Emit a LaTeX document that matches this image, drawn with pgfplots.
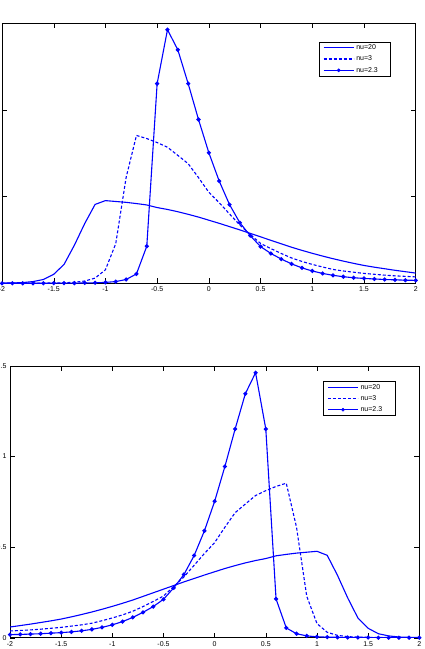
\documentclass[border=0pt]{standalone}
\usepackage{pgfplots}
\pgfplotsset{compat=1.18}
\usepackage{pgfplotstable}
\usepackage{fontspec}
\setmainfont{Liberation Sans}

% x, nu=20 (a), nu=3 (b), nu=2.3 (c)  -- lower panel; upper panel is its mirror image
\pgfplotstableread{
x    a      b      c
-2.0 0.059  0.037  0.017
-1.9 0.067  0.040  0.018
-1.8 0.075  0.043  0.020
-1.7 0.084  0.047  0.022
-1.6 0.093  0.052  0.025
-1.5 0.103  0.057  0.028
-1.4 0.115  0.064  0.032
-1.3 0.128  0.071  0.038
-1.2 0.142  0.080  0.046
-1.1 0.157  0.094  0.057
-1.0 0.173  0.109  0.071
-0.9 0.190  0.126  0.089
-0.8 0.208  0.146  0.112
-0.7 0.228  0.172  0.140
-0.6 0.248  0.200  0.172
-0.5 0.268  0.230  0.212
-0.4 0.288  0.282  0.275
-0.3 0.308  0.336  0.349
-0.2 0.327  0.400  0.454
-0.1 0.346  0.465  0.590
0.0  0.364  0.525  0.753
0.1  0.382  0.610  0.945
0.2  0.398  0.690  1.152
0.3  0.413  0.738  1.347
0.4  0.426  0.785  1.463
0.5  0.437  0.812  1.152
0.6  0.452  0.835  0.214
0.7  0.460  0.853  0.054
0.8  0.467  0.610  0.022
0.9  0.472  0.229  0.010
1.0  0.477  0.078  0.005
1.1  0.455  0.030  0.003
1.2  0.345  0.013  0.002
1.3  0.220  0.006  0.001
1.4  0.109  0.003  0.001
1.5  0.052  0.002  0.001
1.6  0.022  0.001  0.000
1.7  0.010  0.001  0.000
1.8  0.004  0.000  0.000
1.9  0.002  0.000  0.000
2.0  0.001  0.000  0.000
}\datatab

\pgfplotsset{
  mlstyle/.style={
    scale only axis,
    xmin=-2, xmax=2, ymin=0, ymax=1.5,
    xtick={-2,-1.5,-1,-0.5,0,0.5,1,1.5,2},
    ytick={0,0.5,1,1.5},
    tick align=inside,
    major tick length=5pt,
    tick style={black, line width=0.4pt},
    axis line style={black, line width=0.6pt},
    ticklabel style={font=\fontsize{7}{8}\selectfont},
    /pgf/number format/assume math mode=true,
    legend cell align=left,
    legend style={anchor=north east, draw=none,
      font=\fontsize{7}{8}\selectfont, inner xsep=3.7pt, inner ysep=0.5pt,
      row sep=0.5pt,
      append after command={\pgfextra{}},
      nodes={inner sep=2pt, text height=5.3pt, text depth=1.5pt}},
    every axis legend/.append style={draw=black, line width=0.6pt},
  },
  s20/.style={color=blue, draw=blue, line width=1.1pt, mark=none},
  s3/.style={color=blue, draw=blue, line width=1.1pt, mark=none, dash pattern=on 3pt off 2pt},
  s23/.style={color=blue, draw=blue, line width=1.1pt, mark=*, mark size=1.5pt,
    mark options={solid, draw=blue, fill=blue}},
  leg20/.style={legend image code/.code={\draw[blue, draw=blue, solid, line width=1.1pt] (0pt,0pt) -- (30pt,0pt);}},
  leg3/.style={legend image code/.code={\draw[blue, draw=blue, line width=1.1pt, dash pattern=on 3pt off 2pt] (0pt,0pt) -- (30pt,0pt);}},
  leg23/.style={legend image code/.code={\draw[blue, draw=blue, solid, line width=1.1pt] (0pt,0pt) -- (30pt,0pt);
     \fill[blue] (15pt,0pt) circle[radius=1.5pt];}},
}

\begin{document}
\begin{tikzpicture}
\path[use as bounding box, clip] (0pt,0pt) rectangle (424pt,649pt);

\begin{axis}[mlstyle, at={(2pt,365.7pt)}, anchor=south west,
  width=413.7pt, height=260pt,
  legend style={at={(0.94,0.93)}}]
\addplot[s20, forget plot] table[x expr=-\thisrow{x}, y=a]{\datatab};
\addplot[s3, forget plot]  table[x expr=-\thisrow{x}, y=b]{\datatab};
\addplot[s23, forget plot] table[x expr=-\thisrow{x}, y=c]{\datatab};
\addlegendimage{leg20}\addlegendentry{nu=20}
\addlegendimage{leg3}\addlegendentry{nu=3}
\addlegendimage{leg23}\addlegendentry{nu=2.3\hspace*{7pt}}
\end{axis}

\begin{axis}[mlstyle, at={(10pt,11.3pt)}, anchor=south west,
  width=409.3pt, height=271.7pt,
  legend style={at={(0.941,0.945)}}]
\addplot[s20, forget plot] table[x=x, y=a]{\datatab};
\addplot[s3, forget plot]  table[x=x, y=b]{\datatab};
\addplot[s23, forget plot] table[x=x, y=c]{\datatab};
\addlegendimage{leg20}\addlegendentry{nu=20}
\addlegendimage{leg3}\addlegendentry{nu=3}
\addlegendimage{leg23}\addlegendentry{nu=2.3\hspace*{7pt}}
\end{axis}
\end{tikzpicture}
\end{document}
